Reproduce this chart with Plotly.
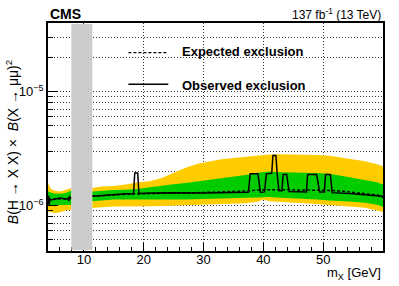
import plotly.graph_objects as go

# ---------------- data (values in units of 1e-6) ----------------
# low-mass segment (below the excluded Upsilon region)
x_low = [4.0, 4.5, 5.0, 5.5, 6.0, 6.5, 7.0, 7.5, 7.9]
p2_low = [1.58, 1.40, 1.36, 1.34, 1.33, 1.35, 1.38, 1.42, 1.43]
p1_low = [1.33, 1.30, 1.28, 1.27, 1.27, 1.28, 1.30, 1.33, 1.36]
m1_low = [0.99, 1.00, 1.01, 1.02, 1.02, 1.02, 1.02, 1.02, 1.02]
m2_low = [0.89, 0.87, 0.86, 0.86, 0.87, 0.89, 0.91, 0.92, 0.92]
exp_low = [1.14, 1.14, 1.14, 1.15, 1.15, 1.15, 1.15, 1.16, 1.17]
obs_low_x = [4.0, 4.1, 4.2, 4.3, 4.5, 5.0, 5.5, 6.0, 6.5, 7.0, 7.3, 7.5, 7.6, 7.7, 7.9]
obs_low_y = [1.05, 1.22, 1.00, 1.15, 1.12, 1.13, 1.15, 1.17, 1.16, 1.14, 1.16, 1.10, 1.22, 1.15, 1.17]

# high-mass segment
x_high = [11.4, 13, 15, 17, 19, 21, 23, 25, 27, 29, 31, 33, 35, 37, 39, 40, 41, 43, 45, 47, 49, 51, 53, 55, 57, 59, 60]
p2_high = [1.43, 1.47, 1.49, 1.53, 1.60, 1.64, 1.75, 1.93, 2.15, 2.33, 2.45, 2.55, 2.62, 2.69, 2.75, 2.78, 2.81,
           2.82, 2.82, 2.81, 2.78, 2.74, 2.64, 2.54, 2.45, 2.31, 2.22]
p1_high = [1.33, 1.35, 1.37, 1.38, 1.40, 1.45, 1.50, 1.54, 1.58, 1.63, 1.68, 1.73, 1.79, 1.86, 1.94, 1.98, 1.99,
           1.96, 1.94, 1.94, 1.93, 1.90, 1.83, 1.75, 1.69, 1.60, 1.53]
m1_high = [1.09, 1.11, 1.13, 1.13, 1.13, 1.13, 1.13, 1.13, 1.13, 1.13, 1.14, 1.15, 1.16, 1.17, 1.18, 1.19, 1.19,
           1.17, 1.16, 1.14, 1.13, 1.11, 1.09, 1.08, 1.06, 1.02, 0.98]
m2_high = [0.955, 0.97, 0.985, 0.985, 0.99, 0.99, 0.995, 1.0, 1.0, 1.01, 1.02, 1.03, 1.04, 1.05, 1.08, 1.13, 1.09,
           1.07, 1.06, 1.05, 1.04, 1.02, 1.0, 0.98, 0.96, 0.91, 0.88]
exp_high = [1.21, 1.23, 1.24, 1.26, 1.27, 1.28, 1.29, 1.29, 1.29, 1.30, 1.30, 1.31, 1.32, 1.34, 1.37, 1.38, 1.38,
            1.38, 1.38, 1.38, 1.37, 1.36, 1.34, 1.31, 1.28, 1.24, 1.20]
obs_high_x = [11.4, 13, 15, 17, 18.3, 18.5, 19.0, 19.2, 21, 25, 30, 35, 37.5, 37.8, 39.1, 39.5, 40.2, 40.5, 41.4,
              41.6, 42.1, 42.3, 42.6, 43.1, 43.3, 43.9, 44.3, 47.2, 47.4, 48.9, 49.4, 50.2, 50.4, 51.2, 51.5,
              55, 58, 59.8, 60]
obs_high_y = [1.21, 1.23, 1.25, 1.27, 1.27, 1.93, 1.93, 1.28, 1.29, 1.30, 1.29, 1.31, 1.31, 1.90, 1.90, 1.31,
              1.32, 1.90, 1.92, 2.75, 2.75, 1.92, 1.35, 1.35, 1.88, 1.88, 1.33, 1.32, 1.88, 1.88, 1.32, 1.32,
              1.88, 1.88, 1.30, 1.27, 1.23, 1.21, 1.17]

veto_region = [7.9, 11.4]
x_major = [10, 20, 30, 40, 50]
y_major = [1e-6, 1e-5]
y_major_text = ["10<sup>\u22126</sup>", "10<sup>\u22125</sup>"]
y_minor = [4e-7, 5e-7, 6e-7, 7e-7, 8e-7, 9e-7, 2e-6, 3e-6, 4e-6, 5e-6, 6e-6, 7e-6, 8e-6, 9e-6, 2e-5, 3e-5]

S = 1e-6
YELLOW = "#FFCC00"
GREEN = "#00CC00"
GRID = "#333333"
GDASH = "1px,2px"
FONT = "Liberation Sans, Arial, Helvetica, sans-serif"

fig = go.Figure()


def band(xs, lo, hi, color):
    xx = list(xs) + list(xs)[::-1]
    yy = [v * S for v in hi] + [v * S for v in lo][::-1]
    fig.add_trace(go.Scatter(x=xx, y=yy, fill="toself", fillcolor=color, mode="lines",
                             line=dict(width=0, color=color), hoverinfo="skip", showlegend=False))


for xs, lo2, hi2, lo1, hi1 in [(x_low, m2_low, p2_low, m1_low, p1_low),
                               (x_high, m2_high, p2_high, m1_high, p1_high)]:
    band(xs, lo2, hi2, YELLOW)
    band(xs, lo1, hi1, GREEN)

for xs, ys in [(x_low, exp_low), (x_high, exp_high)]:
    fig.add_trace(go.Scatter(x=xs, y=[v * S for v in ys], mode="lines",
                             line=dict(color="black", width=1.5, dash="3px,2px"), showlegend=False))
for xs, ys in [(obs_low_x, obs_low_y), (obs_high_x, obs_high_y)]:
    fig.add_trace(go.Scatter(x=xs, y=[v * S for v in ys], mode="lines",
                             line=dict(color="black", width=1.5), showlegend=False))

shapes = [
    # white legend box hiding grid
    dict(type="rect", xref="paper", yref="paper", x0=0.215, x1=0.925, y0=0.67, y1=0.955,
         fillcolor="white", line=dict(width=0), layer="below"),
    # excluded region
    dict(type="rect", xref="x", yref="paper", x0=veto_region[0], x1=veto_region[1], y0=0.004, y1=0.996,
         fillcolor="#CCCCCC", line=dict(width=0), layer="above"),
    # legend samples
    dict(type="line", xref="paper", yref="paper", x0=0.24, x1=0.359, y0=0.87, y1=0.87,
         line=dict(color="black", width=1.2, dash="3px,2px")),
    dict(type="line", xref="paper", yref="paper", x0=0.24, x1=0.359, y0=0.731, y1=0.731,
         line=dict(color="black", width=1.5)),
]

annotations = [
    dict(text="<b>Expected exclusion</b>", xref="paper", yref="paper", x=0.394, y=0.877,
         xanchor="left", yanchor="middle", showarrow=False, font=dict(size=13, family=FONT, color="black")),
    dict(text="<b>Observed exclusion</b>", xref="paper", yref="paper", x=0.394, y=0.727,
         xanchor="left", yanchor="middle", showarrow=False, font=dict(size=13, family=FONT, color="black")),
    dict(text="<b>CMS</b>", xref="paper", yref="paper", x=0.0, y=1.04, xanchor="left", yanchor="middle",
         showarrow=False, font=dict(size=14, family=FONT, color="black")),
    dict(text="137 fb<sup>-1</sup> (13 TeV)", xref="paper", yref="paper", x=1.0, y=1.04, xanchor="right",
         yanchor="middle", showarrow=False, font=dict(size=12, family=FONT, color="black")),
    dict(text="m<sub>X</sub> [GeV]", xref="paper", yref="paper", x=1.0, y=-0.098, xanchor="right",
         yanchor="middle", showarrow=False, font=dict(size=13, family=FONT, color="black")),
    dict(text="<i>B</i>(H \u2192 X X) \u00d7  <i>B</i>(X \u2192 \u03bc\u03bc)<sup>2</sup>", xref="paper",
         yref="paper", x=-0.107, y=0.478, xanchor="center", yanchor="middle", textangle=-90,
         showarrow=False, font=dict(size=14, family=FONT, color="black")),
]

fig.update_layout(
    width=399, height=286,
    margin=dict(l=48, r=16, t=23, b=35, autoexpand=False),
    paper_bgcolor="white", plot_bgcolor="white",
    font=dict(family=FONT, size=13, color="black"),
    shapes=shapes, annotations=annotations, showlegend=False,
)
fig.update_xaxes(
    range=[4, 60], tickvals=x_major, ticks="inside", ticklen=8, tickwidth=1, tickcolor="black",
    showline=True, linecolor="black", linewidth=1.5, mirror=True, automargin=False,
    showgrid=True, gridcolor=GRID, griddash=GDASH, gridwidth=1, zeroline=False,
    minor=dict(dtick=2, tick0=0, ticks="inside", ticklen=4, tickcolor="black", showgrid=False),
    tickfont=dict(size=13), layer="above traces", ticklabelstandoff=-4,
)
fig.update_yaxes(
    type="log", range=[-6.39794, -4.39794], tickvals=y_major, ticktext=y_major_text,
    ticks="inside", ticklen=10, tickwidth=1, tickcolor="black", automargin=False,
    showline=True, linecolor="black", linewidth=1.5, mirror=True,
    showgrid=True, gridcolor=GRID, griddash=GDASH, gridwidth=1, zeroline=False,
    minor=dict(tickvals=y_minor, ticks="inside", ticklen=5, tickcolor="black", showgrid=True,
               gridcolor=GRID, griddash=GDASH, gridwidth=1),
    tickfont=dict(size=13), layer="above traces",
)

fig.write_html("out.html", config={"displayModeBar": False},
               post_script="document.body.style.margin='0';")
